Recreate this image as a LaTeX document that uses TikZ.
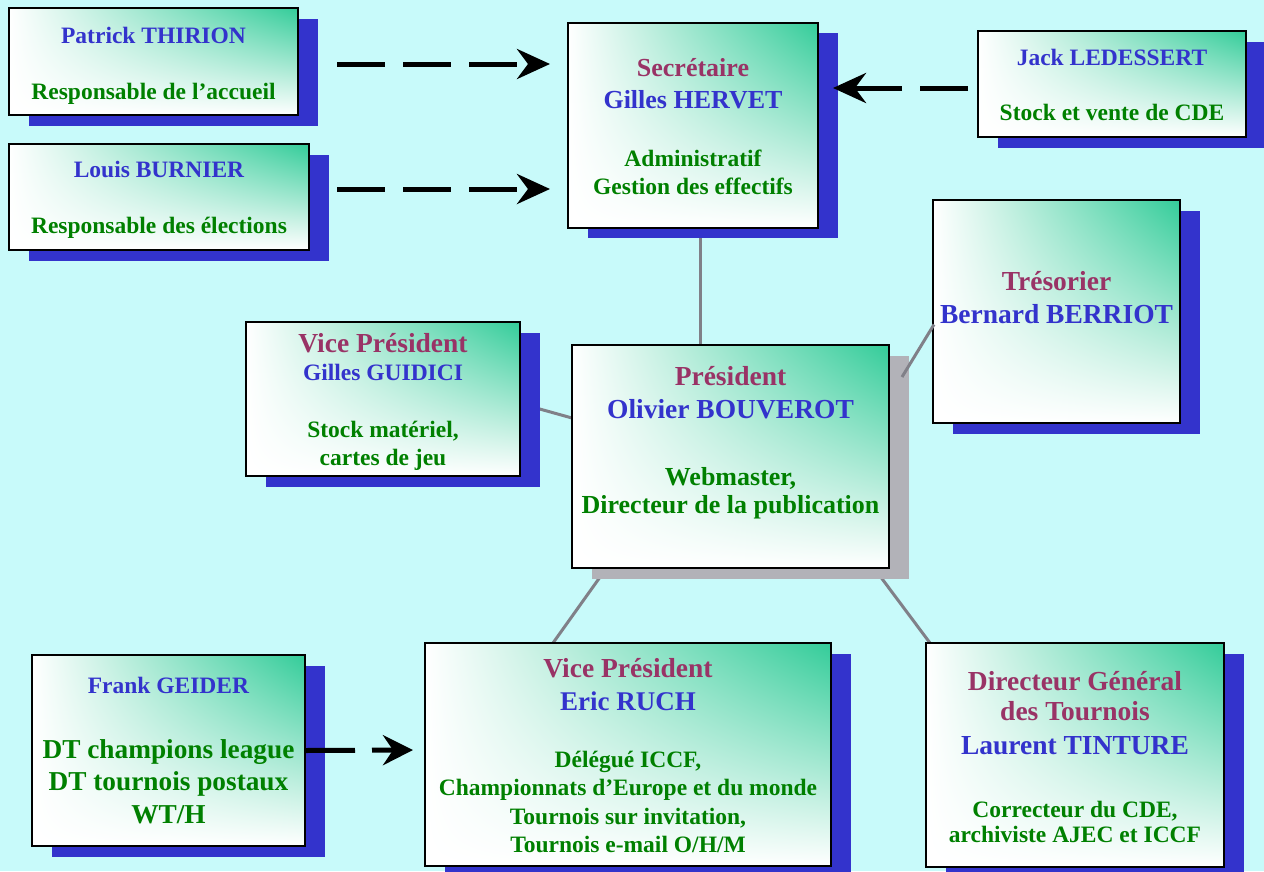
\documentclass[tikz,border=0pt]{standalone}
\usepackage{fontspec}
\setmainfont{Liberation Serif}
\usetikzlibrary{shadows,shadings,arrows.meta,calc}
\definecolor{bgc}{RGB}{200,250,250}
\definecolor{grn}{RGB}{51,204,153}
\definecolor{shblue}{RGB}{51,51,204}
\definecolor{shgray}{RGB}{178,178,184}
\definecolor{titlec}{RGB}{153,51,102}
\definecolor{namec}{RGB}{51,51,204}
\definecolor{descc}{RGB}{0,128,0}
\definecolor{linkc}{RGB}{128,128,136}
\pgfdeclarelayer{background}
\pgfsetlayers{background,main}
\newcommand\ttl[2][27.5]{{\fontsize{#1}{\baselineskip}\selectfont\color{titlec}#2}}
\newcommand\nm[2][23.5]{{\fontsize{#1}{\baselineskip}\selectfont\color{namec}#2}}
\newcommand\ds[2][23.5]{{\fontsize{#1}{\baselineskip}\selectfont\color{descc}#2}}
\newcommand\Hs[1]{\rule{0pt}{#1pt}}
\newcommand\Ds[1]{\rule[-#1pt]{0pt}{#1pt}}
\tikzset{
  box/.style={draw=black, line width=2pt, inner sep=0pt, outer sep=0pt, align=center,
    shade, upper left=white, upper right=grn, lower left=white, lower right=white},
  bshadow/.style={drop shadow={shadow xshift=19.5pt, shadow yshift=-10.5pt, fill=shblue, opacity=1}},
  gshadow/.style={drop shadow={shadow xshift=20pt, shadow yshift=-10.5pt, fill=shgray, opacity=1}},
  sk/.style={font=\bfseries\fontsize{23.5}{#1}\selectfont},
  link/.style={draw=linkc, line width=3pt},
  dasharrow/.style={draw=black, line width=5pt, dash pattern=on 48pt off 18pt,
    -{Stealth[length=33pt,width=30pt,inset=11pt]}},
  dasharrowb/.style={draw=black, line width=5pt, dash pattern=on 50pt off 17pt,
    -{Stealth[length=30pt,width=30pt,inset=10pt]}}
}
\begin{document}
\begin{tikzpicture}[x=1pt,y=-1pt]
\useasboundingbox (0,0) rectangle (1264,871);
\begin{pgfonlayer}{background}
\fill[bgc] (0,0) rectangle (1264,871);
\end{pgfonlayer}

\node[box, bshadow, sk=28, minimum width=289pt, minimum height=107pt] (patrick) at (153.5,61.5)
  {\nm{\Hs{35}Patrick THIRION}\\[28pt]\ds{Responsable de l’accueil\Ds{16}}};
\node[box, bshadow, sk=28, minimum width=300pt, minimum height=106pt] (louis) at (159,197)
  {\nm{\Hs{33}Louis BURNIER}\\[28pt]\ds{Responsable des élections\Ds{17}}};
\node[box, bshadow, sk=28, minimum width=250pt, minimum height=204pt] (secr) at (693,125)
  {\ttl[26]{\Hs{54}Secrétaire}\\[4pt]\nm[26]{Gilles HERVET}\\[30pt]\ds{Administratif}\\\ds{Gestion des effectifs\Ds{33}}};
\node[box, bshadow, sk=27.5, minimum width=268pt, minimum height=106pt] (jack) at (1112,84)
  {\nm{\Hs{34}Jack LEDESSERT}\\[27.5pt]\ds{Stock et vente de CDE\Ds{17}}};
\node[box, bshadow, sk=33, minimum width=247pt, minimum height=223pt] (treso) at (1056.5,311.5)
  {\ttl{\Hs{90}Trésorier}\\\nm[27.5]{Bernard BERRIOT\Ds{100}}};
\node[box, bshadow, sk=28, minimum width=274pt, minimum height=154pt] (guidici) at (383,399)
  {\ttl{\Hs{30}Vice Président}\\\nm{Gilles GUIDICI}\\[29pt]\ds{Stock matériel,}\\\ds{cartes de jeu\Ds{11}}};
\node[box, gshadow, sk=28, minimum width=317pt, minimum height=223pt] (pres) at (730.5,456.5)
  {\ttl{\Hs{40}Président}\\[5pt]\nm[27.5]{Olivier BOUVEROT}\\[39pt]\ds[26]{Webmaster,}\\\ds[26]{Directeur de la publication\Ds{55}}};
\node[box, bshadow, sk=32.5, minimum width=273pt, minimum height=191pt] (frank) at (168.5,750.5)
  {\nm{\Hs{38}Frank GEIDER}\\[32.5pt]\ds[27.3]{DT champions league}\\\ds[27.3]{DT tournois postaux}\\\ds[27.3]{WT/H\Ds{23}}};
\node[box, bshadow, sk=28.5, minimum width=406pt, minimum height=223pt] (ruch) at (628,754.5)
  {\ttl{\Hs{34}Vice Président}\\[4.5pt]\nm[27]{Eric RUCH}\\[28.5pt]\ds{Délégué ICCF,}\\\ds{Championnats d’Europe et du monde}\\\ds{Tournois sur invitation,}\\\ds{Tournois e-mail O/H/M\Ds{13}}};
\node[box, bshadow, sk=30, minimum width=298pt, minimum height=224pt] (dg) at (1075,755)
  {\ttl{\Hs{47}Directeur Général}\\\ttl{des Tournois}\\[4pt]\nm[27.5]{Laurent TINTURE}\\[33pt]\ds{Correcteur du CDE,}\\[-5pt]\ds{archiviste AJEC et ICCF\Ds{24}}};

\begin{pgfonlayer}{background}
\draw[link] ($(secr.south)+(7,0)$) -- ($(pres.north)+(-30.5,0)$);
\draw[link] ($(guidici.east)+(0,4.5)$) -- ($(pres.west)+(0,-38.5)$);
\draw[link] ($(pres.south)+(-124,0)$) -- ($(ruch.north)+(-75,0)$);
\draw[link] ($(pres.south)+(143.5,0)$) -- ($(dg.north)+(-145,0)$);
\end{pgfonlayer}
\draw[link] ($(pres.east)+(13,-79.5)$) -- ($(treso.west)+(1,13)$);

\draw[dasharrow] ($(patrick.east)+(39,2.5)$) -- ($(secr.west)+(-18,-61)$);
\draw[dasharrow] ($(louis.east)+(28,-8)$) -- ($(secr.west)+(-18,64)$);
\draw[dasharrow] ($(jack.west)+(-10,4)$) -- ($(secr.east)+(15,-37)$);
\draw[dasharrowb] (frank.east) -- ($(ruch.west)+(-12,-4.5)$);
\end{tikzpicture}
\end{document}
